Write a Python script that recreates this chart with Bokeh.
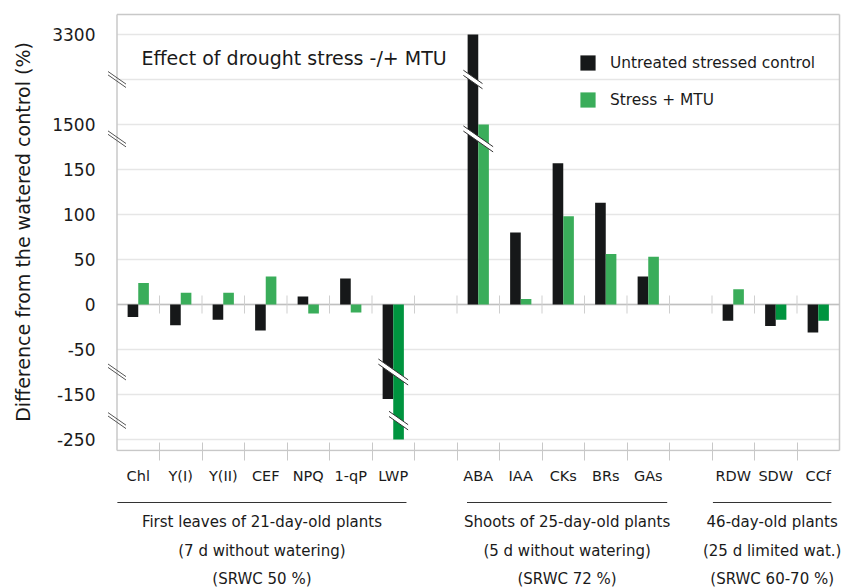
import numpy as np
from bokeh.plotting import figure
from bokeh.layouts import column
from bokeh.models import (Range1d, FixedTicker, Label, Legend,
                          LegendItem, ColumnDataSource)
from bokeh.core.properties import value
from bokeh.embed import file_html
from bokeh.resources import INLINE

# ---------------- data ----------------
group1_cats = ["Chl", "Y(I)", "Y(II)", "CEF", "NPQ", "1-qP", "LWP"]
group2_cats = ["ABA", "IAA", "CKs", "BRs", "GAs"]
group3_cats = ["RDW", "SDW", "CCf"]

group1_text = ["First leaves of 21-day-old plants", "(7 d without watering)", "(SRWC 50 %)"]
group2_text = ["Shoots of 25-day-old plants", "(5 d without watering)", "(SRWC 72 %)"]
group3_text = ["46-day-old plants", "(25 d limited wat.)", "(SRWC 60-70 %)"]

untreated = [-14, -23, -17, -29, 9, 29, -160, 3300, 80, 157, 113, 31, -18, -24, -31]
stress_mtu = [24, 13, 13, 31, -10, -9, -250, 1500, 6, 98, 56, 53, 17, -17, -18]

ytick_values = [3300, 1500, 150, 100, 50, 0, -50, -150, -250]

series_names = ["Untreated stressed control", "Stress + MTU"]
title_text = "Effect of drought stress -/+ MTU"
ylabel_text = "Difference from the watered control (%)"

# ---------------- broken-axis mapping ----------------
break_levels = [250, 184, -75, -129]
real_knots = [-250, -150, -75, 184, 1500, 3300]
disp_knots = [-150, -100, -75, 184, 200, 300]


def to_disp(v):
    return np.interp(np.asarray(v, dtype=float), real_knots, disp_knots)


# ---------------- styles ----------------
FONT = "DejaVu Sans"
BLACK = "#161819"
GREEN = "#3aad5a"
DARK_GREEN = "#00943f"
dark_green_cats = {"LWP", "SDW", "CCf"}
TXT = "#1a1a1a"
BORDER = "#c8c8c8"
GRID = "#e6e6e6"

# ---------------- slot layout ----------------
groups = [(group1_cats, group1_text), (group2_cats, group2_text), (group3_cats, group3_text)]
cats, centers, group_spans = [], [], []
slot = 0
for gi, (gc, gt) in enumerate(groups):
    start = slot
    for c in gc:
        cats.append(c)
        centers.append(slot + 0.5)
        slot += 1
    group_spans.append((start, slot))
    if gi < len(groups) - 1:
        slot += 1  # empty slot between groups
n_slots = slot
boundaries = list(range(1, n_slots))

bw = 0.25
black_x = [c - bw / 2 for c in centers]
green_x = [c + bw / 2 for c in centers]
black_d = to_disp(untreated)
green_d = to_disp(stress_mtu)
green_cols = [DARK_GREEN if c in dark_green_cats else GREEN for c in cats]

src_b = ColumnDataSource(dict(x=black_x, top=black_d, cat=cats))
src_g = ColumnDataSource(dict(x=green_x, top=green_d, cat=cats, color=green_cols))

# ---------------- geometry ----------------
W = 844
H1 = 488
H2 = 587 - H1
px_slot = 42.5          # pixels per slot
px_unit = 0.9           # pixels per display unit
x0_px = 116.5           # pixel of x = 0
fr_left, fr_right, fr_top, fr_bot = 106, 841, 12, 451
zero_px = 304
y_top = (zero_px - fr_top) / px_unit
y_bot = -(fr_bot - zero_px) / px_unit
box_top = (zero_px - 14) / px_unit
box_bot = -(450 - zero_px) / px_unit

p = figure(width=W, height=H1,
           x_range=Range1d((fr_left - x0_px) / px_slot, (fr_right - x0_px) / px_slot),
           y_range=Range1d(y_bot, y_top),
           output_backend="svg", toolbar_location=None,
           min_border_left=fr_left, min_border_right=W - fr_right,
           min_border_top=fr_top, min_border_bottom=H1 - fr_bot)
p.background_fill_color = "white"
p.border_fill_color = "white"
p.outline_line_color = None
p.xgrid.grid_line_color = None
p.ygrid.grid_line_color = None

# y axis
grid_disp = [float(d) for d in np.arange(-150, 301, 50)]
yover = {d: "" for d in grid_disp}
for v in ytick_values:
    yover[float(to_disp(v))] = str(v)
p.yaxis.ticker = FixedTicker(ticks=grid_disp)
p.yaxis.major_label_overrides = yover
p.yaxis.major_tick_line_color = None
p.yaxis.major_tick_in = 0
p.yaxis.major_tick_out = 0
p.yaxis.minor_tick_line_color = None
p.yaxis.axis_line_color = None
p.yaxis.major_label_standoff = 11
p.yaxis.major_label_text_font = FONT
p.yaxis.major_label_text_font_size = "17px"
p.yaxis.major_label_text_color = TXT
p.yaxis.axis_label = ylabel_text
p.yaxis.axis_label_text_font = FONT
p.yaxis.axis_label_text_font_size = "19px"
p.yaxis.axis_label_text_font_style = "normal"
p.yaxis.axis_label_text_color = TXT
p.yaxis.axis_label_standoff = 15

# x axis
p.xaxis.ticker = FixedTicker(ticks=centers, minor_ticks=boundaries)
p.xaxis.major_label_overrides = {float(c): n for c, n in zip(centers, cats)}
p.xaxis.major_tick_line_color = None
p.xaxis.major_tick_in = 0
p.xaxis.major_tick_out = 0
p.xaxis.minor_tick_line_color = BORDER
p.xaxis.minor_tick_in = 9
p.xaxis.minor_tick_out = 9
p.xaxis.axis_line_color = None
p.xaxis.major_label_standoff = 7
p.xaxis.major_label_text_font = FONT
p.xaxis.major_label_text_font_size = "14.5px"
p.xaxis.major_label_text_color = TXT

# gridlines and plot box
p.segment(x0=[0] * len(grid_disp), x1=[n_slots] * len(grid_disp), y0=grid_disp,
          y1=grid_disp, line_color=GRID, line_width=1.5)
p.segment(x0=[0, 0, 0, n_slots], x1=[n_slots, n_slots, 0, n_slots],
          y0=[box_top, box_bot, box_bot, box_bot], y1=[box_top, box_bot, box_top, box_top],
          line_color=BORDER, line_width=1.5)

# zero line and crossing ticks
p.segment(x0=[0], x1=[n_slots], y0=[0], y1=[0], line_color="#c0c0c0", line_width=1.5)
tick_half = 9 / px_unit
p.segment(x0=boundaries, x1=boundaries, y0=[-tick_half] * len(boundaries),
          y1=[tick_half] * len(boundaries), line_color="#cfcfcf", line_width=1)

# bars
rb = p.vbar(x="x", top="top", bottom=0, width=bw, source=src_b,
            fill_color=BLACK, line_color=None)
rg = p.vbar(x="x", top="top", bottom=0, width=bw, source=src_g,
            fill_color="color", line_color=None)

# break marks on bars
slope = -0.7 * px_slot / px_unit  # display units per slot
gap = 2.6 / px_unit
ext = 0.1
bx0, by0, bx1, by1, pxs, pys = [], [], [], [], [], []
for L in break_levels:
    for i in range(len(cats)):
        crossing = []
        for xs, ds in ((black_x, black_d), (green_x, green_d)):
            d = ds[i]
            if (L > 0 and d > L) or (L < 0 and d < L):
                crossing.append(xs[i])
        if not crossing:
            continue
        xa = min(crossing) - bw / 2 - ext
        xb = max(crossing) + bw / 2 + ext
        xm = (xa + xb) / 2
        ya = L + slope * (xa - xm)
        yb = L + slope * (xb - xm)
        pxs.append([xa, xb, xb, xa])
        pys.append([ya + gap, yb + gap, yb - gap, ya - gap])
        for s in (gap, -gap):
            bx0.append(xa); bx1.append(xb)
            by0.append(ya + s); by1.append(yb + s)
p.patches(xs=pxs, ys=pys, fill_color="white", line_color=None)
p.segment(x0=bx0, y0=by0, x1=bx1, y1=by1, line_color="#333333", line_width=1)

# break marks on the y axis
ahw = 9 / px_slot
agap = 1.7 / px_unit
ax0, ay0, ax1, ay1 = [], [], [], []
for L in break_levels:
    for s in (agap, -agap):
        ax0.append(-ahw); ax1.append(ahw)
        ay0.append(L + s - slope * ahw); ay1.append(L + s + slope * ahw)
p.segment(x0=ax0, y0=ay0, x1=ax1, y1=ay1, line_color="#555555", line_width=1)

# title inside plot
p.add_layout(Label(x=(141 - x0_px) / px_slot, y=(zero_px - 57) / px_unit, text=title_text,
                   text_font=FONT, text_font_size="19px", text_color=TXT,
                   text_baseline="middle"))

# legend
legend = Legend(items=[LegendItem(label=series_names[0], renderers=[rb], index=0),
                       LegendItem(label=series_names[1], renderers=[rg], index=0)],
                location=(578 - fr_left, fr_bot - 109), padding=0, margin=0, spacing=18,
                glyph_width=19, glyph_height=19, label_height=19,
                label_standoff=13, label_text_font=FONT,
                label_text_font_size="15.4px", label_text_color=TXT,
                background_fill_alpha=0, border_line_color=None)
p.add_layout(legend)

# ---------------- group captions (second figure, same x mapping) ----------------
q = figure(width=W, height=H2,
           x_range=Range1d((fr_left - x0_px) / px_slot, (W - x0_px) / px_slot),
           y_range=Range1d(H2, 0),
           output_backend="svg", toolbar_location=None,
           x_axis_type=None, y_axis_type=None,
           min_border_left=fr_left, min_border_right=0,
           min_border_top=0, min_border_bottom=0)
q.outline_line_color = None
q.xgrid.grid_line_color = None
q.ygrid.grid_line_color = None
q.background_fill_color = "white"
q.border_fill_color = "white"

line_y = 502 - H1
text_rows = [521 - H1, 550 - H1, 578 - H1]
insets = [(0.01, 0.16), (0.27, 0.0), (0.08, 0.12)]
lx0, lx1, tx, ty, tt = [], [], [], [], []
for (gc, gt), (s0, s1), (il, ir) in zip(groups, group_spans, insets):
    xa, xb = s0 + il, s1 - ir
    lx0.append(xa); lx1.append(xb)
    for t, yy in zip(gt, text_rows):
        tx.append((xa + xb) / 2); ty.append(yy); tt.append(t)
q.segment(x0=lx0, x1=lx1, y0=[line_y] * 3, y1=[line_y] * 3, line_color="#333333", line_width=1)
q.text(x=tx, y=ty, text=tt, text_font=value(FONT), text_font_size="15px",
       text_color=TXT, text_align="center", text_baseline="middle")

open("out.html", "w").write(file_html(column(p, q), INLINE))
